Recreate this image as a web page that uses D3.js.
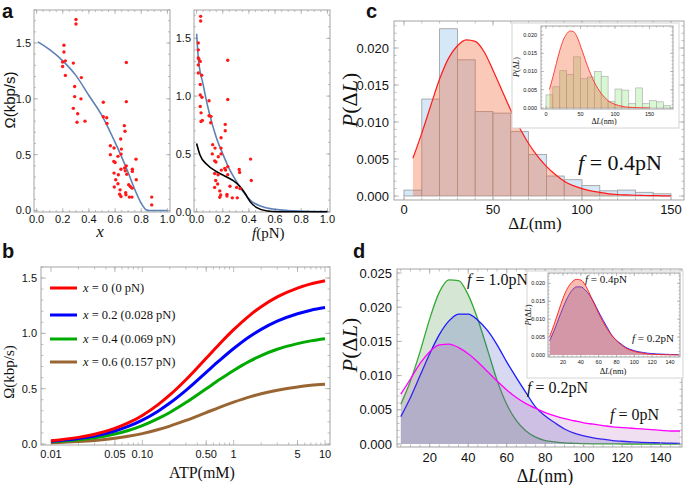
<!DOCTYPE html>
<html><head><meta charset="utf-8">
<script src="https://cdnjs.cloudflare.com/ajax/libs/d3/7.8.5/d3.min.js"></script>
<style>
body{margin:0;background:#fff;}
svg{display:block;}
text{font-family:"Liberation Sans",Arial,sans-serif;fill:#111;}
.serif{font-family:"Liberation Serif","Times New Roman",serif;}
</style></head><body>
<div id="chart"></div>
<script>
// ---------- panel a : measured rates ----------
const xObs = [0.301,0.301,0.209,0.209,0.199,0.220,0.199,0.281,0.220,0.342,0.291,0.291,0.339,0.281,0.314,0.309,0.370,
  0.51,0.51,0.536,0.538,0.686,0.686,0.671,0.676,0.564,0.643,0.592,0.648,0.564,0.646,0.622,0.590,0.600,0.760,0.686,
  0.645,0.673,0.678,0.689,0.592,0.625,0.732,0.732,0.762,0.605,0.704,0.716,0.730,0.594,0.622,0.638,0.681,0.683,0.635,
  0.645,0.709,0.729,0.88,0.88];
const omegaObs = [1.71,1.67,1.48,1.42,1.33,1.34,1.29,1.32,1.21,1.19,1.11,1.02,1.00,0.915,0.867,0.79,0.80,
  0.97,0.84,0.83,0.78,1.325,0.975,0.76,0.71,0.58,0.64,0.56,0.55,0.50,0.505,0.485,0.44,0.43,0.46,0.40,
  0.37,0.38,0.355,0.325,0.335,0.32,0.37,0.35,0.275,0.275,0.23,0.215,0.20,0.21,0.24,0.185,0.16,0.14,0.145,
  0.125,0.12,0.12,0.12,0.05];
const fObs = [0.031,0.031,0.013,0.013,0.013,0.018,0.028,0.013,0.039,0.013,0.028,0.238,0.028,0.041,0.238,0.095,
  0.028,0.034,0.095,0.110,0.044,0.034,0.108,0.219,0.219,0.187,0.123,0.141,0.187,0.120,0.187,0.166,0.138,0.148,
  0.413,0.238,0.215,0.189,0.222,0.326,0.329,0.238,0.138,0.164,0.418,0.255,0.306,0.332,0.146,0.161,0.138,0.177,
  0.232,0.232,0.184,0.177,0.273,0.311];
const omegaObsF = [1.69,1.65,1.46,1.40,1.33,1.32,1.30,1.27,1.18,1.20,1.10,1.31,1.01,0.99,0.97,0.96,
  0.91,0.855,0.83,0.825,0.79,0.78,0.77,0.755,0.70,0.64,0.58,0.55,0.55,0.50,0.50,0.475,0.44,0.43,
  0.455,0.39,0.375,0.36,0.36,0.365,0.34,0.32,0.33,0.32,0.27,0.22,0.21,0.20,0.27,0.24,0.21,0.18,
  0.15,0.135,0.145,0.125,0.12,0.12];
const fitX = [0.01,0.1,0.2,0.3,0.4,0.5,0.6,0.65,0.7,0.75,0.8,0.84,0.86,1.0];
const fitXOmega = [1.51,1.44,1.34,1.21,1.03,0.85,0.61,0.48,0.34,0.19,0.065,0.005,0,0];
const fitF = [0,0.013,0.05,0.1,0.15,0.2,0.25,0.3,0.35,0.42,0.5,0.6,0.7,0.85,1.0];
const fitFOmega = [1.54,1.33,1.10,0.84,0.645,0.50,0.37,0.27,0.18,0.09,0.045,0.02,0.01,0.004,0.002];
const blackF = [0,0.026,0.077,0.154,0.23,0.28,0.33,0.37,0.41,0.46,0.54,0.62,1.0];
const blackOmega = [0.59,0.49,0.41,0.346,0.30,0.268,0.22,0.16,0.085,0.035,0.006,0,0];

// ---------- panel b : rate vs ATP ----------
const atp = [0.01,0.02,0.03,0.05,0.07,0.1,0.15,0.2,0.3,0.5,0.7,1,1.5,2,3,5,7,10];
const omegaX0  = [0.030,0.060,0.088,0.141,0.190,0.258,0.358,0.443,0.581,0.775,0.904,1.033,1.163,1.240,1.329,1.409,1.447,1.476];
const omegaX02 = [0.025,0.050,0.073,0.118,0.159,0.216,0.299,0.370,0.485,0.648,0.755,0.863,0.972,1.036,1.110,1.177,1.209,1.233];
const omegaX04 = [0.020,0.038,0.057,0.091,0.122,0.166,0.231,0.285,0.374,0.499,0.582,0.665,0.749,0.799,0.856,0.907,0.932,0.951];
const omegaX06 = [0.011,0.022,0.032,0.052,0.070,0.094,0.131,0.162,0.213,0.284,0.331,0.378,0.426,0.454,0.486,0.516,0.530,0.540];
const legendX = ["0","0.2","0.4","0.6"];
const legendF = ["(0 pN)","(0.028 pN)","(0.069 pN)","(0.157 pN)"];
const atpTicks = [0.01,0.05,0.1,0.5,1,5,10];
const atpTickLabels = ["0.01","0.05","0.10","0.50","1","5","10"];

// ---------- panel c : step size histograms ----------
const binStart = [0,10,20,30,40,50,60,70,80,90,100,110,120,130,140];
const histF04 = [0.0008,0.0131,0.0226,0.0184,0.0114,0.0112,0.0087,0.0056,0.0027,0.0022,0.0014,0.0007,0.0008,0.0005,0.0003];
const insetBinStart = [0,10,20,30,40,50,60,70,80,90,100,110,120,130,140,150,160,170];
const histInset = [0.0036,0.0058,0.0102,0.0092,0.0140,0.0080,0.0085,0.0100,0.0087,0.0018,0.0052,0.0049,0.0012,0.0055,0.0012,0.0020,0.0017,0.0007];
const dL = [5,10,15,20,25,30,35,40,45,50,55,60,65,70,75,80,85,90,95,100,105,110,115,120,125,130,135,140,145,150];
const pF04 = [0.0051,0.0085,0.0122,0.0158,0.0186,0.0203,0.0211,0.0209,0.0195,0.0170,0.0143,0.0116,0.0092,0.0071,0.0054,
  0.0040,0.0029,0.0020,0.0014,0.0010,0.0007,0.0005,0.0003,0.0002,0.00015,0.0001,0.00007,0.00005,0.00003,0.00002];

// ---------- panel d : model distributions ----------
const pF10 = [0.0058,0.0092,0.0135,0.0183,0.0222,0.0240,0.0239,0.0218,0.0182,0.0138,0.0093,0.0058,0.0034,0.0019,0.0010,
  0.0005,0.0003,0.00015,0.0001,0.00005,0.00003,0.00002,0.00001,0,0,0,0,0,0,0];
const pF02 = [0.0040,0.0068,0.0100,0.0132,0.0160,0.0180,0.0190,0.0190,0.0181,0.0166,0.0145,0.0120,0.0097,0.0075,0.0054,
  0.0041,0.0031,0.0022,0.0016,0.0012,0.0009,0.0007,0.0005,0.0004,0.0003,0.00025,0.0002,0.00015,0.00012,0.0001];
const pF0 = [0.0073,0.0095,0.0118,0.0135,0.0145,0.0146,0.0141,0.0132,0.0120,0.0106,0.0092,0.0079,0.0068,0.0059,0.0052,
  0.0046,0.0041,0.0037,0.0034,0.0031,0.0029,0.0027,0.0025,0.0024,0.0023,0.0022,0.0021,0.0020,0.0019,0.0019];

const W = 685, H = 485;
const svg = d3.select("#chart").append("svg").attr("width", W).attr("height", H);
const FRAME = "#a3a3a3";

// Mathematica style frame: box, inward ticks on all sides, labels left/bottom
function frame(g, b, x, y, o) {
  g.append("rect").attr("x", b.l).attr("y", b.t).attr("width", b.r - b.l).attr("height", b.b - b.t)
    .attr("fill", "none").attr("stroke", FRAME).attr("stroke-width", 1);
  const tk = g.append("g").attr("stroke", FRAME).attr("stroke-width", 0.7);
  const inX = v => x(v) >= b.l - 0.5 && x(v) <= b.r + 0.5;
  const inY = v => y(v) >= b.t - 0.5 && y(v) <= b.b + 0.5;
  [[o.xMajor, o.maj], [o.xMinor, o.min]].forEach(([vals, len]) => {
    vals.filter(inX).forEach(v => {
      tk.append("line").attr("x1", x(v)).attr("x2", x(v)).attr("y1", b.b).attr("y2", b.b - len);
      tk.append("line").attr("x1", x(v)).attr("x2", x(v)).attr("y1", b.t).attr("y2", b.t + len);
    });
  });
  [[o.yMajor, o.maj], [o.yMinor, o.min]].forEach(([vals, len]) => {
    vals.filter(inY).forEach(v => {
      tk.append("line").attr("y1", y(v)).attr("y2", y(v)).attr("x1", b.l).attr("x2", b.l + len);
      tk.append("line").attr("y1", y(v)).attr("y2", y(v)).attr("x1", b.r).attr("x2", b.r - len);
    });
  });
  o.xMajor.filter(inX).forEach((v, i) => {
    g.append("text").attr("x", x(v)).attr("y", o.xLabY).attr("text-anchor", "middle")
      .attr("font-size", o.fs).text(o.xFmt(v, i));
  });
  o.yMajor.filter(inY).forEach(v => {
    g.append("text").attr("x", o.yLabX).attr("y", y(v)).attr("dy", "0.35em").attr("text-anchor", "end")
      .attr("font-size", o.fs).text(o.yFmt(v));
  });
}
function rangeStep(a, b, s) { return d3.range(Math.round(a / s), Math.round(b / s) + 1).map(k => +(k * s).toFixed(6)); }
function panelLetter(t, x, y) {
  svg.append("text").attr("x", x).attr("y", y).attr("font-size", 20).attr("font-weight", "bold").text(t);
}
// text like "f = 0.4pN" with italic first symbol
function fLabel(g, x, y, size, sym, rest) {
  const t = g.append("text").attr("class", "serif").attr("x", x).attr("y", y).attr("font-size", size);
  t.append("tspan").attr("font-style", "italic").text(sym);
  t.append("tspan").text(rest);
  return t;
}
function pdlLabel(g, x, y, size) {
  const t = g.append("text").attr("class", "serif").attr("font-size", size)
    .attr("transform", "translate(" + x + "," + y + ") rotate(-90)").attr("text-anchor", "middle");
  t.append("tspan").attr("font-style", "italic").text("P");
  t.append("tspan").text("(Δ");
  t.append("tspan").attr("font-style", "italic").text("L");
  t.append("tspan").text(")");
}
function dlLabel(g, x, y, size) {
  const t = g.append("text").attr("class", "serif").attr("font-size", size).attr("x", x).attr("y", y)
    .attr("text-anchor", "middle");
  t.append("tspan").text("Δ");
  t.append("tspan").attr("font-style", "italic").text("L");
  t.append("tspan").text("(nm)");
}
const fmt1 = d3.format(".1f"), fmt3 = d3.format(".3f");

// ================= panel a =================
panelLetter("a", 2, 18);
const ga = svg.append("g");
const aLx = d3.scaleLinear().domain([0, 1]).range([36.6, 167.4]);
const aLy = d3.scaleLinear().domain([0, 1.5]).range([210.5, 43]);
frame(ga, {l: 34, t: 10, r: 170, b: 212}, aLx, aLy, {
  xMajor: rangeStep(0, 1, 0.2), xMinor: rangeStep(0, 1, 0.05), yMajor: rangeStep(0, 1.5, 0.5), yMinor: rangeStep(0, 1.8, 0.1),
  maj: 4, min: 2, fs: 11, xLabY: 223, yLabX: 31, xFmt: v => fmt1(v), yFmt: v => fmt1(v)});
ga.append("path").datum(fitX.map((v, i) => [v, fitXOmega[i]]))
  .attr("d", d3.line().x(d => aLx(d[0])).y(d => aLy(d[1])).curve(d3.curveMonotoneX))
  .attr("fill", "none").attr("stroke", "#5e81b5").attr("stroke-width", 1.6);
ga.selectAll(".pa").data(xObs).enter().append("circle")
  .attr("cx", d => aLx(d)).attr("cy", (d, i) => aLy(omegaObs[i])).attr("r", 1.7).attr("fill", "#ff1a1a");
ga.append("text").attr("transform", "translate(15,100) rotate(-90)").attr("text-anchor", "middle")
  .attr("font-size", 15).text("Ω(kbp/s)");
ga.append("text").attr("class", "serif").attr("x", 100).attr("y", 237).attr("text-anchor", "middle")
  .attr("font-size", 17).attr("font-style", "italic").text("x");

const aRx = d3.scaleLinear().domain([0, 1]).range([196.6, 327.4]);
const aRy = d3.scaleLinear().domain([0, 1.5]).range([211.7, 38.3]);
frame(ga, {l: 194, t: 10, r: 330, b: 212}, aRx, aRy, {
  xMajor: rangeStep(0, 1, 0.2), xMinor: rangeStep(0, 1, 0.05), yMajor: rangeStep(0, 1.5, 0.5), yMinor: rangeStep(0, 1.8, 0.1),
  maj: 4, min: 2, fs: 11, xLabY: 223, yLabX: 191, xFmt: v => fmt1(v), yFmt: v => fmt1(v)});
ga.append("path").datum(fitF.map((v, i) => [v, fitFOmega[i]]))
  .attr("d", d3.line().x(d => aRx(d[0])).y(d => aRy(d[1])).curve(d3.curveMonotoneX))
  .attr("fill", "none").attr("stroke", "#5e81b5").attr("stroke-width", 1.6);
ga.append("path").datum(blackF.map((v, i) => [v, blackOmega[i]]))
  .attr("d", d3.line().x(d => aRx(d[0])).y(d => aRy(d[1])).curve(d3.curveMonotoneX))
  .attr("fill", "none").attr("stroke", "#000").attr("stroke-width", 1.6);
ga.selectAll(".pf").data(fObs).enter().append("circle")
  .attr("cx", d => aRx(d)).attr("cy", (d, i) => aRy(omegaObsF[i])).attr("r", 1.7).attr("fill", "#ff1a1a");
fLabel(ga, 252, 238, 15, "f", "(pN)");

// ================= panel b =================
panelLetter("b", 2, 258);
const gb = svg.append("g");
const bx = d3.scaleLog().domain([0.01, 10]).range([51, 325]);
const by = d3.scaleLinear().domain([0, 1.5]).range([444, 278]);
const logMinor = [];
[0.01, 0.1, 1].forEach(dec => d3.range(2, 10).forEach(k => logMinor.push(+(dec * k).toFixed(4))));
frame(gb, {l: 41, t: 267, r: 330, b: 445}, bx, by, {
  xMajor: atpTicks, xMinor: logMinor, yMajor: rangeStep(0, 1.5, 0.5), yMinor: rangeStep(0, 1.6, 0.1),
  maj: 5, min: 2.5, fs: 11, xLabY: 458, yLabX: 37, xFmt: (v, i) => atpTickLabels[i], yFmt: v => fmt1(v)});
const bSeries = [omegaX0, omegaX02, omegaX04, omegaX06];
const bColors = ["#ff0000", "#0000ff", "#00aa00", "#996633"];
const bLine = d3.line().x(d => bx(d[0])).y(d => by(d[1])).curve(d3.curveMonotoneX);
bSeries.slice().reverse().forEach((s, k) => {
  const i = bSeries.length - 1 - k;
  gb.append("path").datum(atp.map((a, j) => [a, s[j]])).attr("d", bLine)
    .attr("fill", "none").attr("stroke", bColors[i]).attr("stroke-width", 3);
});
const legY = [288, 315, 339, 362];
legendX.forEach((v, i) => {
  gb.append("line").attr("x1", 50).attr("x2", 77).attr("y1", legY[i]).attr("y2", legY[i])
    .attr("stroke", bColors[i]).attr("stroke-width", 3);
  const t = gb.append("text").attr("class", "serif").attr("x", 83).attr("y", legY[i] + 4).attr("font-size", 12.5);
  t.append("tspan").attr("font-style", "italic").text("x");
  t.append("tspan").text(" = " + v + " " + legendF[i]);
});
gb.append("text").attr("class", "serif").attr("transform", "translate(14,372) rotate(-90)").attr("text-anchor", "middle")
  .attr("font-size", 15).text("Ω(kbp/s)");
gb.append("text").attr("class", "serif").attr("x", 202).attr("y", 478).attr("text-anchor", "middle")
  .attr("font-size", 16).text("ATP(mM)");

// ================= panel c =================
panelLetter("c", 366, 18);
const gc = svg.append("g");
const cx = d3.scaleLinear().domain([0, 150]).range([404, 671]);
const cy = d3.scaleLinear().domain([0, 0.02]).range([196, 48]);
gc.selectAll(".barc").data(histF04).enter().append("rect")
  .attr("x", (d, i) => cx(binStart[i])).attr("width", (d, i) => cx(binStart[i] + 10) - cx(binStart[i]))
  .attr("y", d => cy(d)).attr("height", d => cy(0) - cy(d))
  .attr("fill", "#d6e7f8").attr("stroke", "#9a9a9a").attr("stroke-width", 0.8);
const cArea = d3.area().x(d => cx(d[0])).y0(cy(0)).y1(d => cy(d[1])).curve(d3.curveMonotoneX);
const cLine = d3.line().x(d => cx(d[0])).y(d => cy(d[1])).curve(d3.curveMonotoneX);
const cData = dL.map((v, i) => [v, pF04[i]]);
gc.append("path").datum(cData).attr("d", cArea).attr("fill", "rgb(240,90,40)").attr("fill-opacity", 0.33);
gc.append("path").datum(cData).attr("d", cLine).attr("fill", "none").attr("stroke", "#ff1a1a").attr("stroke-width", 1.2);
frame(gc, {l: 394, t: 21, r: 684, b: 200}, cx, cy, {
  xMajor: rangeStep(0, 150, 50), xMinor: rangeStep(0, 160, 10), yMajor: rangeStep(0, 0.02, 0.005), yMinor: rangeStep(0, 0.024, 0.001),
  maj: 5, min: 2.5, fs: 13, xLabY: 214, yLabX: 389, xFmt: v => d3.format("d")(v), yFmt: v => fmt3(v)});
pdlLabel(gc, 357, 100, 22);
dlLabel(gc, 535, 229, 17);
fLabel(gc, 578, 170, 22, "f", " = 0.4pN");

// inset c
const gci = svg.append("g");
gci.append("rect").attr("x", 512).attr("y", 23).attr("width", 167).attr("height", 105)
  .attr("fill", "#fff").attr("stroke", "#d4d4d4").attr("stroke-width", 1);
const cix = d3.scaleLinear().domain([0, 50]).range([546, 580.5]);
const ciy = d3.scaleLinear().domain([0, 0.02]).range([108, 35]);
gci.selectAll(".barci").data(histInset).enter().append("rect")
  .attr("x", (d, i) => cix(insetBinStart[i])).attr("width", (d, i) => cix(insetBinStart[i] + 10) - cix(insetBinStart[i]))
  .attr("y", d => ciy(d)).attr("height", d => ciy(0) - ciy(d))
  .attr("fill", "#d9f7d3").attr("stroke", "#a8a8a8").attr("stroke-width", 0.6);
const ciArea = d3.area().x(d => cix(d[0])).y0(ciy(0)).y1(d => ciy(d[1])).curve(d3.curveMonotoneX);
const ciLine = d3.line().x(d => cix(d[0])).y(d => ciy(d[1])).curve(d3.curveMonotoneX);
gci.append("path").datum(cData).attr("d", ciArea).attr("fill", "rgb(240,90,40)").attr("fill-opacity", 0.33);
gci.append("path").datum(cData).attr("d", ciLine).attr("fill", "none").attr("stroke", "#ff1a1a").attr("stroke-width", 0.8);
frame(gci, {l: 541, t: 26, r: 673, b: 109}, cix, ciy, {
  xMajor: rangeStep(0, 150, 50), xMinor: rangeStep(0, 180, 10), yMajor: rangeStep(0, 0.02, 0.005), yMinor: rangeStep(0, 0.022, 0.001),
  maj: 3, min: 1.5, fs: 5.5, xLabY: 116, yLabX: 537, xFmt: v => d3.format("d")(v), yFmt: v => fmt3(v)});
pdlLabel(gci, 519, 67, 8);
dlLabel(gci, 604, 124, 8);

// ================= panel d =================
panelLetter("d", 353, 258);
const gd = svg.append("g");
const dx = d3.scaleLinear().domain([0, 150]).range([391.2, 680]);
const dy = d3.scaleLinear().domain([0, 0.025]).range([444, 273]);
const dArea = d3.area().x(d => dx(d[0])).y0(dy(0)).y1(d => dy(d[1])).curve(d3.curveMonotoneX);
const dLine = d3.line().x(d => dx(d[0])).y(d => dy(d[1])).curve(d3.curveMonotoneX);
const dSeries = [
  {v: pF10, line: "#33aa33", fill: "rgb(80,150,80)", op: 0.24},
  {v: pF02, line: "#1a1aff", fill: "rgb(70,80,190)", op: 0.22},
  {v: pF0, line: "#ff00ff", fill: "rgb(170,80,170)", op: 0.18}
];
dSeries.forEach(s => {
  const data = dL.map((v, i) => [v, s.v[i]]);
  gd.append("path").datum(data).attr("d", dArea).attr("fill", s.fill).attr("fill-opacity", s.op);
  gd.append("path").datum(data).attr("d", dLine).attr("fill", "none").attr("stroke", s.line).attr("stroke-width", 1.3);
});
frame(gd, {l: 397, t: 269, r: 682, b: 447}, dx, dy, {
  xMajor: rangeStep(20, 140, 20), xMinor: rangeStep(5, 150, 5), yMajor: rangeStep(0, 0.025, 0.005), yMinor: rangeStep(0, 0.026, 0.001),
  maj: 5, min: 2.5, fs: 13, xLabY: 462, yLabX: 392, xFmt: v => d3.format("d")(v), yFmt: v => fmt3(v)});
pdlLabel(gd, 357, 345, 22);
dlLabel(gd, 545, 482, 18);
fLabel(gd, 467, 285, 16, "f", " = 1.0pN");
fLabel(gd, 527, 393, 16, "f", " = 0.2pN");
fLabel(gd, 610, 420, 16, "f", " = 0pN");

// inset d
const gdi = svg.append("g");
gdi.append("rect").attr("x", 527).attr("y", 271).attr("width", 156).attr("height", 107)
  .attr("fill", "#fff").attr("stroke", "#d4d4d4").attr("stroke-width", 1);
const dix = d3.scaleLinear().domain([20, 140]).range([563, 670]);
const diy = d3.scaleLinear().domain([0, 0.02]).range([355, 283.3]);
const diArea = d3.area().x(d => dix(d[0])).y0(diy(0)).y1(d => diy(d[1])).curve(d3.curveMonotoneX);
const diLine = d3.line().x(d => dix(d[0])).y(d => diy(d[1])).curve(d3.curveMonotoneX);
const diBlue = dL.map((v, i) => [v, pF02[i]]);
gdi.append("path").datum(diBlue).attr("d", diArea).attr("fill", "rgb(60,60,210)").attr("fill-opacity", 0.3);
gdi.append("path").datum(diBlue).attr("d", diLine).attr("fill", "none").attr("stroke", "#1a1aff").attr("stroke-width", 0.9);
gdi.append("path").datum(cData).attr("d", diArea).attr("fill", "rgb(240,80,50)").attr("fill-opacity", 0.38);
gdi.append("path").datum(cData).attr("d", diLine).attr("fill", "none").attr("stroke", "#ff1a1a").attr("stroke-width", 0.9);
frame(gdi, {l: 548, t: 273, r: 680, b: 357}, dix, diy, {
  xMajor: rangeStep(20, 140, 20), xMinor: rangeStep(5, 150, 5), yMajor: rangeStep(0, 0.02, 0.005), yMinor: rangeStep(0, 0.022, 0.001),
  maj: 3, min: 1.5, fs: 5.5, xLabY: 364, yLabX: 545, xFmt: v => d3.format("d")(v), yFmt: v => fmt3(v)});
pdlLabel(gdi, 531, 315, 8.5);
dlLabel(gdi, 613, 374, 8.5);
fLabel(gdi, 585, 283, 11, "f", " = 0.4pN");
fLabel(gdi, 632, 342, 11, "f", " = 0.2pN");
</script>
</body></html>
